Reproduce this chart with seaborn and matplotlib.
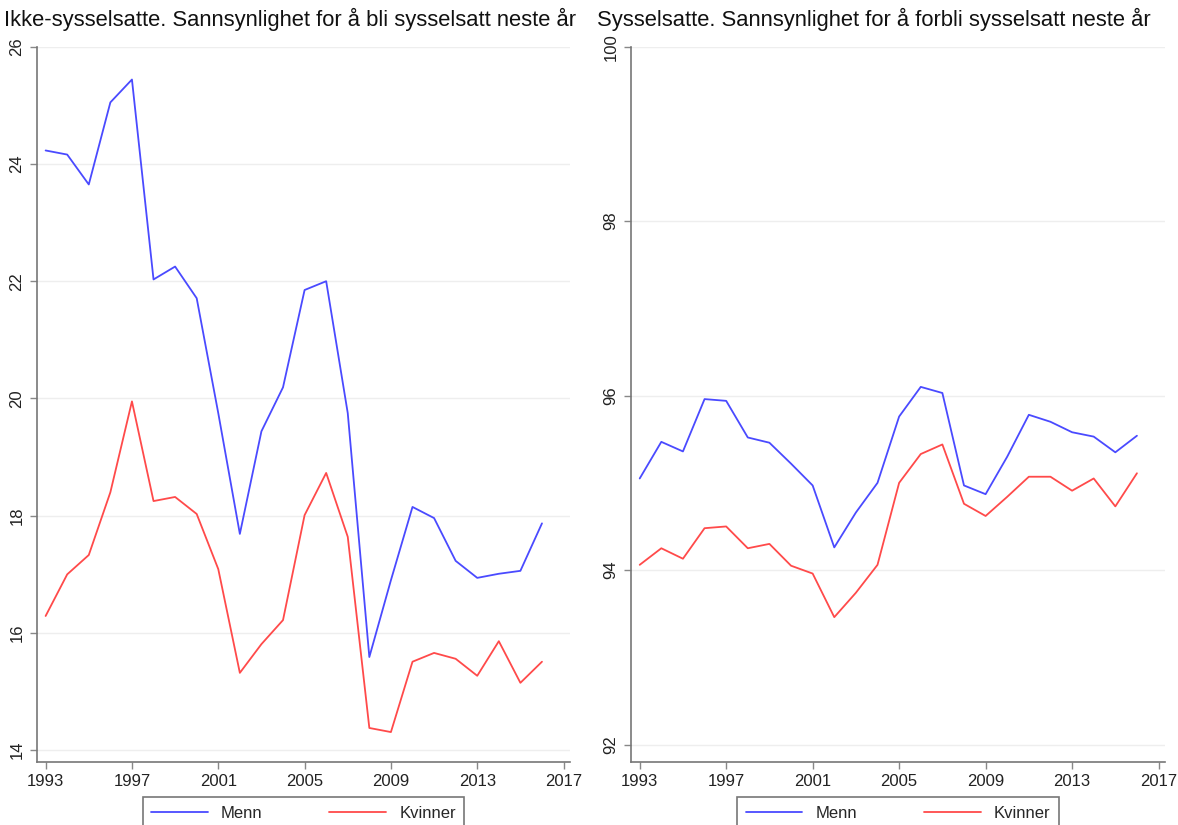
import numpy as np
import pandas as pd
import matplotlib
matplotlib.use("Agg")
import matplotlib.pyplot as plt
import seaborn as sns

years = list(range(1993, 2017))

# Ikke-sysselsatte: sannsynlighet for aa bli sysselsatt neste aar
ikke_menn = [24.23, 24.16, 23.65, 25.05, 25.44, 22.03, 22.25, 21.71, 19.75, 17.69,
             19.44, 20.19, 21.85, 22.0, 19.75, 15.59, 16.9, 18.15, 17.96, 17.23,
             16.94, 17.01, 17.06, 17.87]
ikke_kvinner = [16.29, 17.0, 17.33, 18.4, 19.95, 18.25, 18.32, 18.03, 17.09, 15.32,
                15.81, 16.22, 18.01, 18.73, 17.64, 14.38, 14.31, 15.51, 15.66, 15.56,
                15.27, 15.86, 15.15, 15.51]

# Sysselsatte: sannsynlighet for aa forbli sysselsatt neste aar
syss_menn = [95.05, 95.47, 95.36, 95.96, 95.94, 95.52, 95.46, 95.22, 94.97, 94.26,
             94.66, 95.0, 95.76, 96.10, 96.03, 94.97, 94.87, 95.30, 95.78, 95.70,
             95.58, 95.53, 95.35, 95.54]
syss_kvinner = [94.06, 94.25, 94.13, 94.48, 94.50, 94.25, 94.30, 94.05, 93.96, 93.46,
                93.74, 94.06, 95.0, 95.33, 95.44, 94.76, 94.62, 94.84, 95.07, 95.07,
                94.91, 95.05, 94.73, 95.11]

titles = ["Ikke-sysselsatte. Sannsynlighet for å bli sysselsatt neste år",
          "Sysselsatte. Sannsynlighet for å forbli sysselsatt neste år"]
groups = ["Menn", "Kvinner"]
xticks = [1993, 1997, 2001, 2005, 2009, 2013, 2017]

sns.set_theme(style="white")
plt.rcParams["font.family"] = ["Liberation Sans", "DejaVu Sans"]

def long_df(menn, kvinner):
    return pd.DataFrame({
        "year": years * 2,
        "value": menn + kvinner,
        "group": ["Menn"] * len(years) + ["Kvinner"] * len(years),
    })

panels = [
    (long_df(ikke_menn, ikke_kvinner), (13.8, 26), np.arange(14, 27, 2)),
    (long_df(syss_menn, syss_kvinner), (91.8, 100), np.arange(92, 101, 2)),
]

fig = plt.figure(figsize=(11.78, 8.25), dpi=100)
axes = [fig.add_axes([0.0314, 0.0764, 0.4525, 0.867]),
        fig.add_axes([0.5357, 0.0764, 0.4533, 0.867])]
palette = {"Menn": "#4a4aff", "Kvinner": "#ff4a4a"}

for ax, (df, ylim, yt), title, tx in zip(axes, panels, titles, [0.003, 0.507]):
    sns.lineplot(data=df, x="year", y="value", hue="group", hue_order=groups,
                 palette=palette, linewidth=1.3, ax=ax)
    ax.set_xlim(1992.6, 2017.3)
    ax.set_ylim(*ylim)
    ax.set_xticks(xticks)
    ax.set_yticks(yt)
    ax.set_yticklabels([str(v) for v in yt], rotation=90, va="center")
    ax.tick_params(axis="both", direction="out", length=5, width=1,
                   color="#888888", labelsize=12, labelcolor="#222222",
                   left=True, bottom=True, pad=4)
    ax.grid(axis="y", color="#eeeeee", linewidth=1)
    ax.grid(axis="x", visible=False)
    for side in ["top", "right"]:
        ax.spines[side].set_visible(False)
    for side in ["left", "bottom"]:
        ax.spines[side].set_color("#777777")
        ax.spines[side].set_linewidth(1.2)
    ax.set_xlabel("")
    ax.set_ylabel("")
    leg = ax.legend(loc="upper center", bbox_to_anchor=(0.5, -0.038), ncol=2,
                    fontsize=12, handlelength=3.4, columnspacing=4.0,
                    frameon=True, fancybox=False, borderpad=0.5)
    leg.get_frame().set_edgecolor("#555555")
    leg.get_frame().set_linewidth(1.2)
    fig.text(tx, 0.99, title, ha="left", va="top", fontsize=15.8, color="#111111")

fig.savefig("out.png", dpi=100)
